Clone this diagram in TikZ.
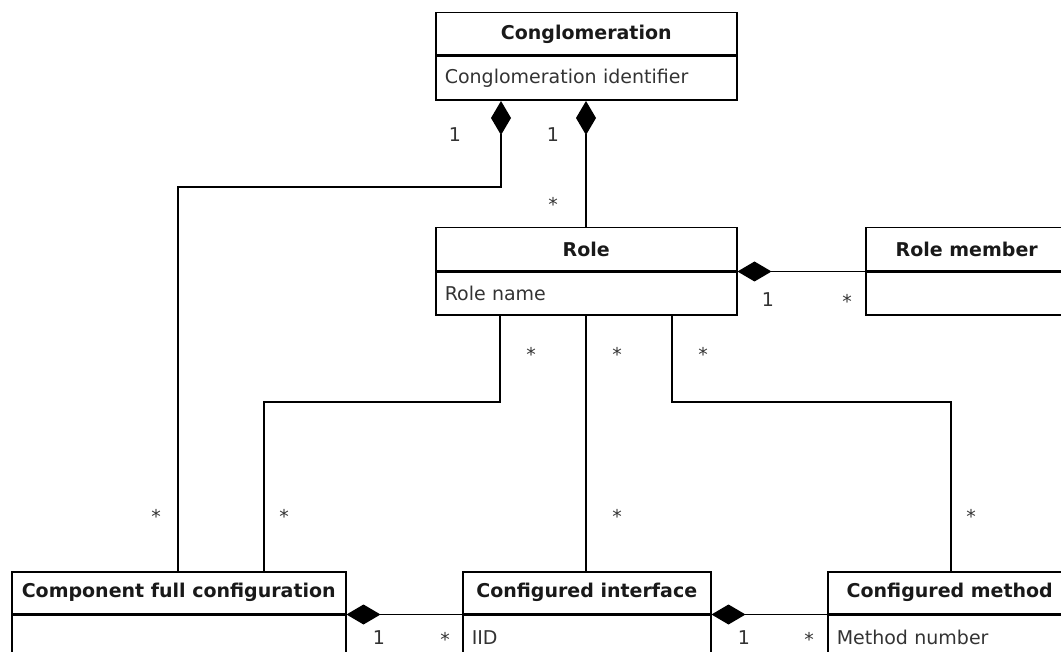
\documentclass[tikz,border=0pt]{standalone}
\usepackage{fontspec}
\setmainfont{DejaVu Sans}
\usetikzlibrary{arrows.meta}
\begin{document}
\begin{tikzpicture}[x=1pt,y=-1pt,
  box/.style={draw=black, line width=1.5pt, inner sep=0pt, anchor=north west},
  hdr/.style={box, font=\fontsize{19}{22}\selectfont\bfseries, text=black!90},
  bdy/.style={box, inner xsep=9pt, align=left, font=\fontsize{19}{22}\selectfont, text=black!80},
  link/.style={draw=black, line width=1.3pt},
  comp/.style={link, {Diamond[length=34pt,width=20pt]}-},
  mult/.style={inner sep=0pt, font=\fontsize{19}{22}\selectfont, text=black!80}]
\useasboundingbox (0,0) rectangle (1061,652);
\clip (0,0) rectangle (1061,652);
% classes
\node[hdr, minimum width=301pt, minimum height=42.5pt] (cong) at (435,12) {Conglomeration};
\node[bdy, text width=283pt, minimum height=43.5pt] (congb) at (cong.south west) {Conglomeration identifier};
\node[hdr, minimum width=301pt, minimum height=43pt] (role) at (435,227) {Role};
\node[bdy, text width=283pt, minimum height=43pt] (roleb) at (role.south west) {Role name};
\node[hdr, minimum width=202pt, minimum height=43pt] (rm) at (865,227) {Role member};
\node[bdy, text width=184pt, minimum height=43pt] (rmb) at (rm.south west) {};
\node[hdr, minimum width=334pt, minimum height=42pt] (cfc) at (11,571) {Component full configuration};
\node[bdy, text width=316pt, minimum height=44pt] (cfcb) at (cfc.south west) {};
\node[hdr, minimum width=248pt, minimum height=42pt] (ci) at (462,571) {Configured interface};
\node[bdy, text width=230pt, minimum height=44pt] (cib) at (ci.south west) {IID};
\node[hdr, minimum width=244pt, minimum height=42pt] (cm) at (827,571) {Configured method};
\node[bdy, text width=226pt, minimum height=44pt] (cmb) at (cm.south west) {Method number};
% connectors
\draw[comp] ([xshift=66pt]congb.south west) -- ++(0,86) -| ([xshift=167pt]cfc.north west);
\draw[comp] ([xshift=151pt]congb.south west) -- ([xshift=151pt]role.north west);
\draw[comp] (role.south east) -- (rm.south west);
\draw[link] ([xshift=65pt]roleb.south west) -- ++(0,86) -| ([xshift=253pt]cfc.north west);
\draw[link] ([xshift=151pt]roleb.south west) -- ([xshift=124pt]ci.north west);
\draw[link] ([xshift=237pt]roleb.south west) -- ++(0,86) -| ([xshift=124pt]cm.north west);
\draw[comp] (cfc.south east) -- (ci.south west);
\draw[comp] (ci.south east) -- (cm.south west);
% multiplicities
\node[mult] (m1) at (455,135) {1};
\node[mult] (m2) at (553,135) {1};
\node[mult] (m3) at (553,204) {*};
\node[mult] (m4) at (768,300) {1};
\node[mult] (m5) at (847,301) {*};
\node[mult] (m6) at (531,354) {*};
\node[mult] (m7) at (617,354) {*};
\node[mult] (m8) at (703,354) {*};
\node[mult] (m9) at (156,516) {*};
\node[mult] (m10) at (284,516) {*};
\node[mult] (m11) at (617,516) {*};
\node[mult] (m12) at (971,516) {*};
\node[mult] (m13) at (379,638) {1};
\node[mult] (m14) at (445,639) {*};
\node[mult] (m15) at (744,638) {1};
\node[mult] (m16) at (809,639) {*};
\end{tikzpicture}
\end{document}
